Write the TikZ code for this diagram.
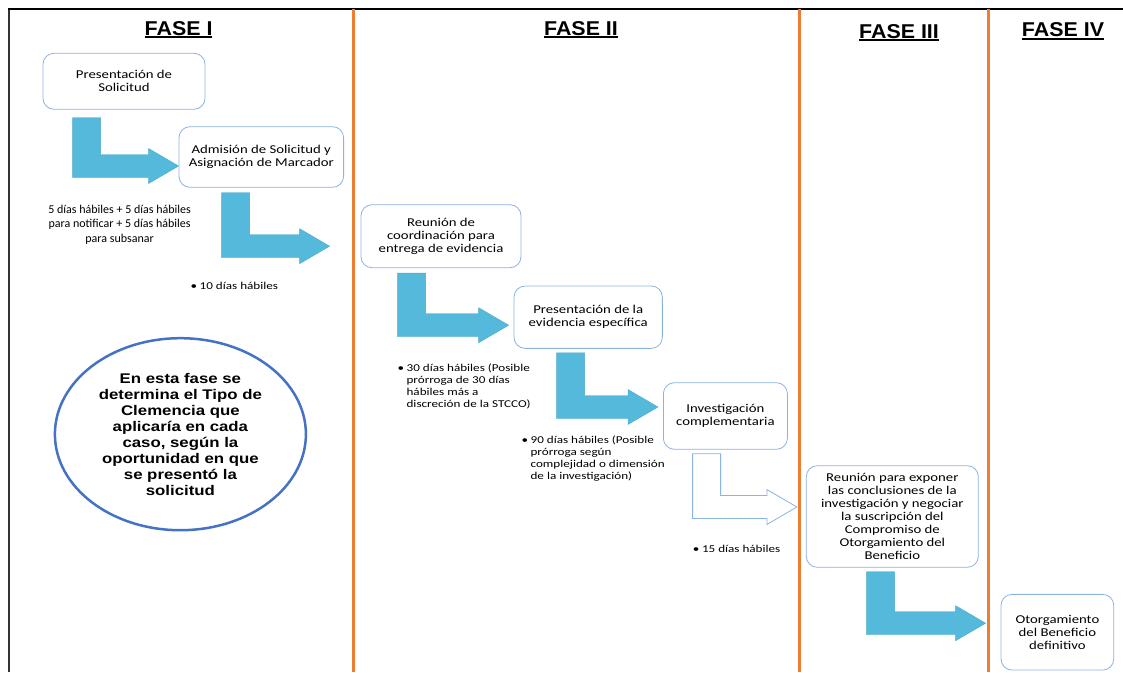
\documentclass[tikz,border=0pt]{standalone}
\usepackage{fontspec}
\setmainfont{Carlito}
\newfontfamily\boxfont[FakeStretch=1.23]{Carlito}
\newfontfamily\notefont[FakeStretch=1.25]{Carlito}
\newfontfamily\headfont[FakeStretch=1.07, UprightFont={* Bold}]{Liberation Sans}
\newfontfamily\ovalfont[FakeStretch=1.2, UprightFont={* Bold}]{Liberation Sans}
\usepackage{tikz}
\usetikzlibrary{shapes.geometric, calc}

\definecolor{boxline}{RGB}{141,179,226}
\definecolor{arrowblue}{RGB}{84,185,219}
\definecolor{laneorange}{RGB}{237,125,49}
\definecolor{ovalblue}{RGB}{68,114,196}

\newsavebox\fasebox
\newcommand{\faseul}[1]{\sbox\fasebox{#1}\usebox\fasebox\llap{\rule[-3.2pt]{\wd\fasebox}{2pt}}}

% bent block arrow: style, stem top-left corner, tip
\newcommand{\bentarrow}[3]{%
  \path[#1] (#2) -- ++(28,0) |- ($(#3)+(-30,-11.5)$) -- ++(0,-6) -- (#3)
    -- ++(-30,17.5) -- ++(0,-6) -| (#2) -- cycle;
}

\begin{document}
\begin{tikzpicture}[
    x=1pt, y=-1pt,
    box/.style={draw=boxline, line width=0.8pt, rounded corners=11pt, fill=white, align=center, inner sep=2pt,
      font=\boxfont\fontsize{12}{13}\selectfont},
    note/.style={align=left, inner sep=0pt, font=\notefont\fontsize{10.5}{12}\selectfont},
    fase/.style={anchor=base, inner sep=0pt, font=\headfont\fontsize{20}{24}\selectfont},
    oval/.style={ellipse, draw=ovalblue, line width=2.5pt, align=center, inner sep=0pt,
      minimum width=251, minimum height=192, font=\ovalfont\fontsize{14}{16}\selectfont},
    lane/.style={draw=laneorange, line width=3pt},
    blockarr/.style={fill=arrowblue, draw=arrowblue!92!black, line width=0.4pt},
    hollowarr/.style={fill=white, draw=boxline, line width=0.8pt}
  ]
  \useasboundingbox (0,0) rectangle (1123,672);

  % frame and lanes
  \draw[gray!40!black, line width=2pt] (9,672) -- (9,9);
  \draw[line width=1.5pt] (8,9) -- (1123,9);
  \foreach \x in {353.6, 799, 988} {
    \draw[lane] (\x,9) -- (\x,672);
  }

  % phase titles
  \node[fase] (fase1) at (178.6,35) {\faseul{FASE I}};
  \node[fase] (fase2) at (581,35) {\faseul{FASE II}};
  \node[fase] (fase3) at (899,38) {\faseul{FASE III}};
  \node[fase] (fase4) at (1063,36.5) {\faseul{FASE IV}};

  % steps
  \node[box, minimum width=162, minimum height=56] (solicitud) at (124,81.3) {Presentación de\\Solicitud};
  \node[box, minimum width=164.6, minimum height=60.6] (admision) at (261.3,157) {Admisión de Solicitud y\\Asignación de Marcador};
  \node[box, minimum width=160, minimum height=63] (reunion) at (441,236.2) {Reunión de\\coordinación para\\entrega de evidencia};
  \node[box, minimum width=148.3, minimum height=62.3] (evidencia) at (588.2,317.2) {Presentación de la\\evidencia específica};
  \node[box, minimum width=124, minimum height=66.6] (investigacion) at (725.4,416) {Investigación\\complementaria};
  \node[box, minimum width=172, minimum height=101.6] (conclusiones) at (892.3,516.5)
    {Reunión para exponer\\las conclusiones de la\\investigación y negociar\\la suscripción del\\Compromiso de\\Otorgamiento del\\Beneficio};
  \node[box, minimum width=112.7, minimum height=75.7] (otorgamiento) at (1057.4,632.2) {Otorgamiento\\del Beneficio\\definitivo};

  % arrows between steps
  \coordinate (a1s) at ($(solicitud.south west)+(30,8)$);
  \coordinate (a1t) at ($(admision.west)+(0,9)$);
  \coordinate (a2s) at ($(admision.south west)+(43,5)$);
  \coordinate (a2t) at ($(reunion.west)+(-31,10)$);
  \coordinate (a3s) at ($(reunion.south west)+(37,5)$);
  \coordinate (a3t) at ($(evidencia.west)+(-5,8)$);
  \coordinate (a4s) at ($(evidencia.south west)+(43,4)$);
  \coordinate (a4t) at ($(investigacion.west)+(-5,-9)$);
  \coordinate (a5s) at ($(investigacion.south west)+(29.6,4)$);
  \coordinate (a5t) at ($(conclusiones.west)+(-9,-9.5)$);
  \coordinate (a6s) at ($(conclusiones.south west)+(60.7,4)$);
  \coordinate (a6t) at ($(otorgamiento.west)+(-15,-9)$);
  \bentarrow{blockarr}{a1s}{a1t}
  \bentarrow{blockarr}{a2s}{a2t}
  \bentarrow{blockarr}{a3s}{a3t}
  \bentarrow{blockarr}{a4s}{a4t}
  \bentarrow{hollowarr}{a5s}{a5t}
  \bentarrow{blockarr}{a6s}{a6t}

  % time notes (base = last line)
  \node[note, align=center, anchor=base, font=\fontsize{12}{14.5}\selectfont] (dias5) at (119.6,242)
    {5 días hábiles + 5 días hábiles\\para notificar + 5 días hábiles\\para subsanar};
  \node[note, anchor=base west] (dias10) at (199.5,289) {\llap{\textbullet\hspace{2.5pt}}10 días hábiles};
  \node[note, anchor=base west] (dias30) at (406.4,407)
    {\llap{\textbullet\hspace{2.5pt}}30 días hábiles (Posible\\prórroga de 30 días\\hábiles más a\\discreción de la STCCO)};
  \node[note, anchor=base west] (dias90) at (530.4,479)
    {\llap{\textbullet\hspace{2.5pt}}90 días hábiles (Posible\\prórroga según\\complejidad o dimensión\\de la investigación)};
  \node[note, anchor=base west] (dias15) at (701.8,552) {\llap{\textbullet\hspace{2.5pt}}15 días hábiles};

  % phase I remark
  \node[oval] (clemencia) at (180.4,434.2)
    {En esta fase se\\determina el Tipo de\\Clemencia que\\aplicaría en cada\\caso, según la\\oportunidad en que\\se presentó la\\solicitud};
\end{tikzpicture}
\end{document}
